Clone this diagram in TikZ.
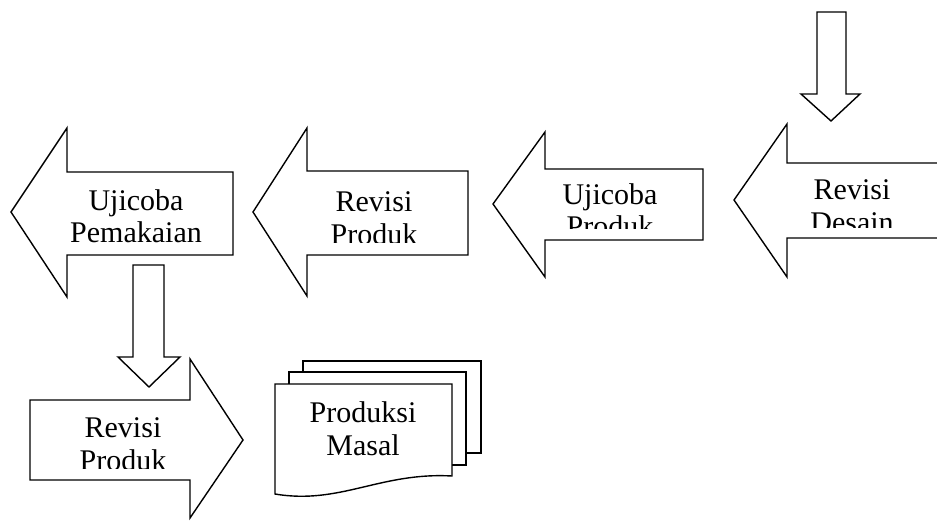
\documentclass[tikz,border=0pt]{standalone}
\usepackage{fontspec}
\setmainfont{Liberation Serif}
\begin{document}
\begin{tikzpicture}[x=1pt,y=-1pt,
  shapeline/.style={draw=black,line width=1.4pt,fill=white,line join=miter},
  lbl/.style={anchor=base,inner sep=0pt,font=\fontsize{30}{33}\selectfont}]
\useasboundingbox (0,0) rectangle (937,521);
% --- Arrow 1: Ujicoba Pemakaian
\draw[shapeline] (233,172) -- (67,172) -- (67,128) -- (11,212) -- (67,297) -- (67,255) -- (233,255) -- cycle;
\node[lbl] (a1l1) at (136,211) {Ujicoba};
\node[lbl] (a1l2) at (136,243) {Pemakaian};
% --- Arrow 2: Revisi Produk
\draw[shapeline] (468,171) -- (307,171) -- (307,128) -- (253,212) -- (307,296) -- (307,255) -- (468,255) -- cycle;
\begin{scope}
\clip (300,150) rectangle (468,243);
\node[lbl] (a2l1) at (374,212) {Revisi};
\node[lbl] (a2l2) at (374,245) {Produk};
\end{scope}
% --- Arrow 3: Ujicoba Produk
\draw[shapeline] (703,169) -- (545,169) -- (545,132) -- (493,204) -- (545,277) -- (545,240) -- (703,240) -- cycle;
\begin{scope}
\clip (540,150) rectangle (703,229);
\node[lbl] (a3l1) at (610,205) {Ujicoba};
\node[lbl] (a3l2) at (610,237) {Produk};
\end{scope}
% --- Arrow 4: Revisi Desain (runs off the right edge)
\fill[white] (937,163) -- (787,163) -- (787,124) -- (734,200) -- (787,277) -- (787,238) -- (937,238) -- cycle;
\draw[line width=1.4pt,line join=miter] (937,163) -- (787,163) -- (787,124) -- (734,200) -- (787,277) -- (787,238) -- (937,238);
\begin{scope}
\clip (780,140) rectangle (937,228);
\node[lbl] (a4l1) at (852,200) {Revisi};
\node[lbl] (a4l2) at (852,233) {Desain};
\end{scope}
% --- Down arrow at top right
\draw[shapeline] (817,12) -- (846,12) -- (846,94) -- (860,94) -- (831,121) -- (801,94) -- (817,94) -- cycle;
% --- Down arrow under Ujicoba Pemakaian
\draw[shapeline] (133,265) -- (164,265) -- (164,357) -- (180,357) -- (149,387) -- (118,357) -- (133,357) -- cycle;
% --- Right arrow: Revisi Produk
\draw[shapeline] (30,400) -- (190,400) -- (190,359) -- (243,440) -- (190,518) -- (190,480) -- (30,480) -- cycle;
\begin{scope}
\clip (25,380) rectangle (190,468);
\node[lbl] (a5l1) at (123,437) {Revisi};
\node[lbl] (a5l2) at (123,470) {Produk};
\end{scope}
% --- Multi-document: Produksi Masal
\draw[shapeline] (303,361) rectangle (481,453);
\draw[shapeline] (289,372) rectangle (466,465);
\draw[shapeline] (275,384) -- (452,384) -- (452,476) .. controls (380,472) and (340,505) .. (275,494) -- cycle;
\node[lbl] (d1) at (363,422) {Produksi};
\node[lbl] (d2) at (363,455) {Masal};
\end{tikzpicture}
\end{document}
